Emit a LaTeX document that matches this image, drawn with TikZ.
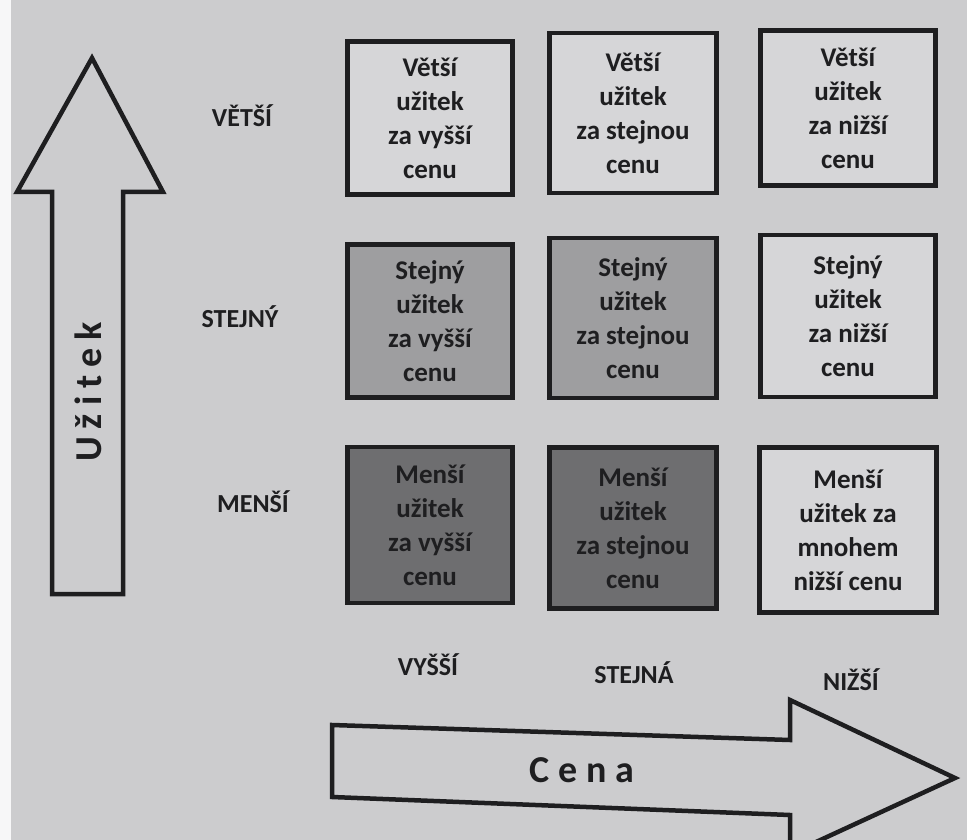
\documentclass[tikz,border=0pt]{standalone}
\usepackage{fontspec}
\setmainfont{Carlito}
\definecolor{paper}{RGB}{204,204,206}
\definecolor{boxlight}{RGB}{214,214,216}
\definecolor{boxmid}{RGB}{158,158,160}
\definecolor{boxdark}{RGB}{110,110,112}
\definecolor{ink}{RGB}{30,30,32}
\newcommand{\ks}{\kern8pt}
\newcommand{\kc}{\kern9pt}
\begin{document}
\begin{tikzpicture}[x=1pt,y=-1pt,
  cell/.style={draw=ink, line width=4.8pt, inner sep=0pt, align=center, text=ink,
    font=\fontsize{27}{34}\selectfont\bfseries},
  light/.style={cell, fill=boxlight},
  mid/.style={cell, fill=boxmid},
  dark/.style={cell, fill=boxdark},
  axislabel/.style={text=ink, font=\fontsize{26}{30}\selectfont\bfseries},
  axistitle/.style={text=ink, font=\fontsize{38}{44}\selectfont\bfseries},
  bigarrow/.style={draw=ink, line width=4.5pt, line join=miter}]
\clip (0,0) rectangle (967,840);
\fill[paper] (0,0) rectangle (967,840);
\fill[white!85!paper] (0,0) rectangle (11,840);

% vertical arrow
\draw[bigarrow] (92,58) -- (163,192) -- (123,192) -- (123,594) -- (52,594) -- (52,192) -- (17,192) -- cycle;
\node[axistitle, rotate=90] (uz) at (88,392) {U\ks ž\ks i\ks t\ks e\ks k};

% horizontal arrow
\draw[bigarrow] (332,725) -- (790,740) -- (790,700) -- (955,778) -- (790,854) -- (790,815) -- (332,797) -- cycle;
\node[axistitle] (cena) at (582,770) {C\kc e\kc n\kc a};

% row labels
\node[axislabel] (lv) at (242,116) {VĚTŠÍ};
\node[axislabel] (ls) at (240,317) {STEJNÝ};
\node[axislabel] (lm) at (253,502) {MENŠÍ};

% column labels
\node[axislabel] (cv) at (428,665) {VYŠŠÍ};
\node[axislabel] (cs) at (634,673) {STEJNÁ};
\node[axislabel] (cn) at (851,680) {NIŽŠÍ};

% row 1
\node[light, minimum width=165pt, minimum height=153pt] (b11) at (430,118) {Větší\\užitek\\za vyšší\\cenu};
\node[light, minimum width=167pt, minimum height=160pt] (b12) at (633,113) {Větší\\užitek\\za stejnou\\cenu};
\node[light, minimum width=175pt, minimum height=155pt] (b13) at (848,108) {Větší\\užitek\\za nižší\\cenu};
% row 2
\node[mid, minimum width=165pt, minimum height=153pt] (b21) at (430,321) {Stejný\\užitek\\za vyšší\\cenu};
\node[mid, minimum width=167pt, minimum height=160pt] (b22) at (633,318) {Stejný\\užitek\\za stejnou\\cenu};
\node[light, minimum width=175pt, minimum height=162pt] (b23) at (848,316) {Stejný\\užitek\\za nižší\\cenu};
% row 3
\node[dark, minimum width=165pt, minimum height=156pt] (b31) at (430,525) {Menší\\užitek\\za vyšší\\cenu};
\node[dark, minimum width=167pt, minimum height=161pt] (b32) at (633,528) {Menší\\užitek\\za stejnou\\cenu};
\node[light, minimum width=177pt, minimum height=165pt] (b33) at (848,530) {Menší\\užitek za\\mnohem\\nižší cenu};
\end{tikzpicture}
\end{document}
